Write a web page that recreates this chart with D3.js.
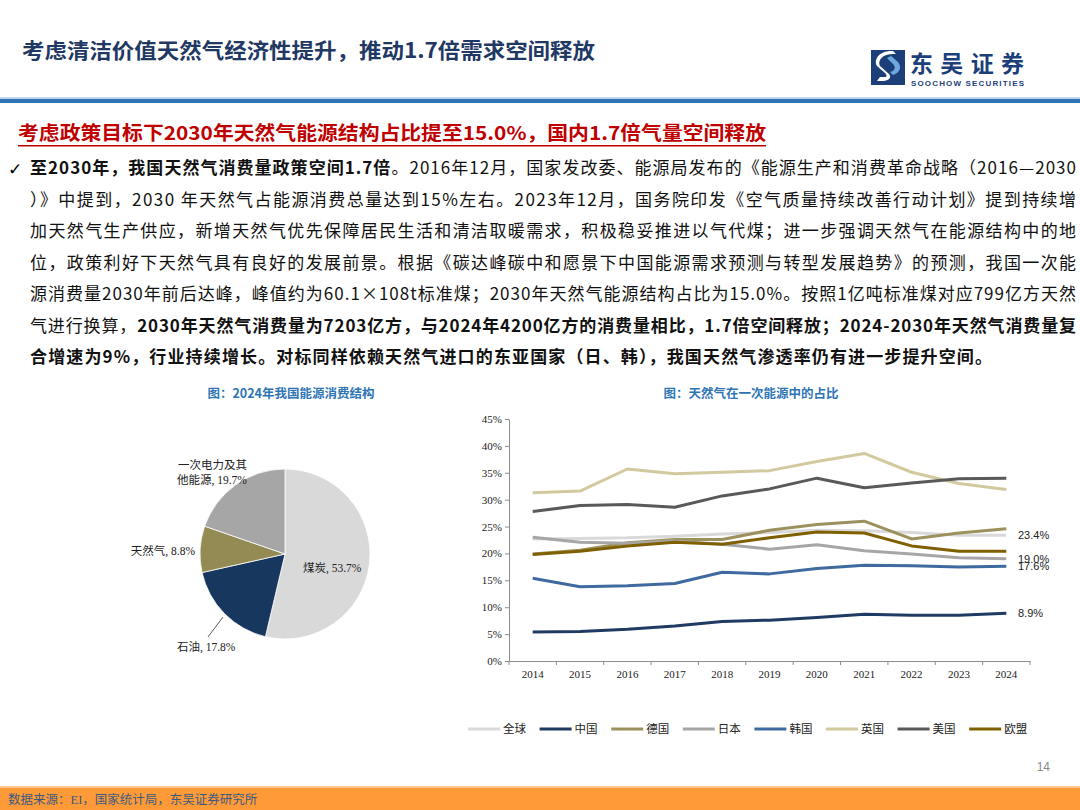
<!DOCTYPE html>
<html><head><meta charset="utf-8">
<script src="https://cdn.jsdelivr.net/npm/d3@7/dist/d3.min.js"></script>
<style>
html,body{margin:0;padding:0;background:#fff;}
svg{display:block;}
</style></head>
<body>
<svg id="c" width="1080" height="810"></svg>
<script>
// ---------- data ----------
const years = ["2014","2015","2016","2017","2018","2019","2020","2021","2022","2023","2024"];
const seriesNames = ["全球","中国","德国","日本","韩国","英国","美国","欧盟"];
const globalVals  = [22.7,22.8,22.9,23.2,23.6,23.9,24.3,24.2,23.9,23.4,23.4];
const chinaVals   = [5.4,5.5,5.9,6.5,7.35,7.6,8.1,8.7,8.5,8.5,8.9];
const germanyVals = [19.9,20.6,22.0,22.6,22.6,24.3,25.4,26.0,22.7,23.8,24.6];
const japanVals   = [23.0,22.1,21.9,22.3,21.7,20.8,21.6,20.5,19.9,19.2,19.0];
const koreaVals   = [15.4,13.8,14.0,14.4,16.5,16.2,17.2,17.8,17.7,17.5,17.6];
const ukVals      = [31.3,31.6,35.7,34.8,35.1,35.4,37.1,38.6,35.1,33.0,31.9];
const usVals      = [27.8,28.9,29.1,28.6,30.7,32.0,34.0,32.2,33.1,33.9,34.0];
const euVals      = [19.8,20.4,21.4,22.1,21.7,22.9,24.0,23.8,21.4,20.4,20.4];
const yTicks = [0,5,10,15,20,25,30,35,40,45];
const endLabels = [["全球","23.4%"],["日本","19.0%"],["韩国","17.6%"],["中国","8.9%"]];

const pieLabels = ["煤炭","石油","天然气","一次电力及其他能源"];
const pieValues = [53.7,17.8,8.8,19.7];

// ---------- styles ----------
const lineColors = {"全球":"#d9d9d9","中国":"#1f3b63","德国":"#9c915c","日本":"#a6a6a6",
  "韩国":"#3e6aa0","英国":"#d3c99f","美国":"#595959","欧盟":"#7f6000"};
const pieColors = ["#d9d9d9","#17375e","#948a54","#a6a6a6"];
const seriesVals = {"全球":globalVals,"中国":chinaVals,"德国":germanyVals,"日本":japanVals,
  "韩国":koreaVals,"英国":ukVals,"美国":usVals,"欧盟":euVals};

const svg = d3.select("#c");
const SANS = "'Noto Sans CJK SC','Liberation Sans',sans-serif";
const SERIF = "'Liberation Serif','Times New Roman','Noto Sans CJK SC',serif";

// ---------- header ----------
svg.append("text").attr("x",22).attr("y",58).attr("font-family",SANS).attr("font-weight","bold")
  .attr("font-size",21).attr("fill","#1f3864").attr("textLength",573).attr("lengthAdjust","spacingAndGlyphs")
  .text("考虑清洁价值天然气经济性提升，推动1.7倍需求空间释放");

// logo
const logo = svg.append("g").attr("transform","translate(871,50)");
logo.append("rect").attr("width",34).attr("height",35).attr("fill","#1c3f7a");
logo.append("path").attr("d","M25,4 C13,3 6,9 9,16 L18,24 C21,27 18,31 12,31 L6,31 L9,27 L14,27 C16,27 16,25 14,23 L6,16 C2,9 9,0 22,1 Z")
  .attr("fill","#fff");
logo.append("path").attr("d","M20,6 L27,12 C31,17 29,23 22,25 L19,22 C24,21 25,17 22,14 L16,8 Z").attr("fill","#6fa8dc");
svg.append("text").attr("x",910).attr("y",72).attr("font-family",SANS).attr("font-weight","bold")
  .attr("font-size",23).attr("fill","#1c3f7a").attr("textLength",114).text("东吴证券");
svg.append("text").attr("x",911).attr("y",85.5).attr("font-family","'Liberation Sans',sans-serif").attr("font-weight","bold")
  .attr("font-size",8).attr("fill","#1c3f7a").attr("textLength",113).text("SOOCHOW SECURITIES");

svg.append("rect").attr("x",0).attr("y",97).attr("width",1080).attr("height",2).attr("fill","#bdd7ee");
svg.append("rect").attr("x",0).attr("y",99).attr("width",1080).attr("height",4).attr("fill","#2f75b5");

// subtitle
svg.append("text").attr("x",18).attr("y",140).attr("font-family",SANS).attr("font-weight","bold")
  .attr("font-size",19).attr("fill","#c00000").attr("textLength",748).attr("lengthAdjust","spacingAndGlyphs")
  .text("考虑政策目标下2030年天然气能源结构占比提至15.0%，国内1.7倍气量空间释放");
svg.append("rect").attr("x",18).attr("y",145).attr("width",748).attr("height",1.5).attr("fill","#c00000");

// body
svg.append("text").attr("x",8).attr("y",175).attr("font-family","'DejaVu Sans',sans-serif").attr("font-size",17)
  .attr("fill","#000").text("✓");
const bodyLines = [
  [["至2030年，我国天然气消费量政策空间1.7倍",1],["。2016年12月，国家发改委、能源局发布的《能源生产和消费革命战略（2016—2030",0]],
  [["）》中提到，2030 年天然气占能源消费总量达到15%左右。2023年12月，国务院印发《空气质量持续改善行动计划》提到持续增",0]],
  [["加天然气生产供应，新增天然气优先保障居民生活和清洁取暖需求，积极稳妥推进以气代煤；进一步强调天然气在能源结构中的地",0]],
  [["位，政策利好下天然气具有良好的发展前景。根据《碳达峰碳中和愿景下中国能源需求预测与转型发展趋势》的预测，我国一次能",0]],
  [["源消费量2030年前后达峰，峰值约为60.1×108t标准煤；2030年天然气能源结构占比为15.0%。按照1亿吨标准煤对应799亿方天然",0]],
  [["气进行换算，",0],["2030年天然气消费量为7203亿方，与2024年4200亿方的消费量相比，1.7倍空间释放；2024-2030年天然气消费量复",1]],
  [["合增速为9%，行业持续增长。对标同样依赖天然气进口的东亚国家（日、韩），我国天然气渗透率仍有进一步提升空间。",1]]
];
const bodyLens = [1046,1046,1046,1046,1046,1046,962];
bodyLines.forEach((segs,i)=>{
  const t = svg.append("text").attr("x",30).attr("y",174+i*31.5).attr("font-family",SANS)
    .attr("font-size",17).attr("fill","#111").attr("textLength",bodyLens[i]).attr("lengthAdjust","spacing");
  segs.forEach(s=>t.append("tspan").attr("font-weight",s[1]?"bold":"normal").text(s[0]));
});

// chart titles
svg.append("text").attr("x",291).attr("y",398).attr("text-anchor","middle").attr("font-family",SANS)
  .attr("font-weight","bold").attr("font-size",12.5).attr("fill","#2e75b6").text("图：2024年我国能源消费结构");
svg.append("text").attr("x",751).attr("y",398).attr("text-anchor","middle").attr("font-family",SANS)
  .attr("font-weight","bold").attr("font-size",12.5).attr("fill","#2e75b6").text("图：天然气在一次能源中的占比");

// ---------- pie ----------
const pieG = svg.append("g").attr("transform","translate(285,554)");
const R = 85;
const pie = d3.pie().sort(null).value(d=>d)(pieValues);
const arc = d3.arc().innerRadius(0).outerRadius(R);
pieG.selectAll("path").data(pie).join("path").attr("d",arc)
  .attr("fill",(d,i)=>pieColors[i]).attr("stroke","#fff").attr("stroke-width",0.8);
const pl = svg.append("g").attr("font-family",SERIF).attr("font-size",11.5).attr("fill","#222");
pl.append("text").attr("x",303).attr("y",572).text(pieLabels[0]+", "+pieValues[0]+"%");
pl.append("text").attr("x",177).attr("y",651).text(pieLabels[1]+", "+pieValues[1]+"%");
svg.append("line").attr("x1",223).attr("y1",617).attr("x2",208).attr("y2",637).attr("stroke","#333").attr("stroke-width",0.8);
pl.append("text").attr("x",195).attr("y",555).attr("text-anchor","end").text(pieLabels[2]+", "+pieValues[2]+"%");
pl.append("text").attr("x",178).attr("y",469).attr("textLength",69).text("一次电力及其");
pl.append("text").attr("x",177).attr("y",484).text("他能源, "+pieValues[3]+"%");

// ---------- line chart ----------
const x = d3.scaleBand().domain(years).range([509,1030]);
const y = d3.scaleLinear().domain([0,45]).range([661,419]);
const axisColor = "#8c8c8c";
const yAx = svg.append("g").attr("transform","translate(509,0)")
  .call(d3.axisLeft(y).tickValues(yTicks).tickFormat(d=>d+"%").tickSize(4).tickSizeOuter(0));
yAx.select(".domain").attr("stroke",axisColor);
yAx.selectAll(".tick line").attr("stroke",axisColor);
yAx.selectAll(".tick text").attr("font-family",SERIF).attr("font-size",11).attr("fill","#222").attr("x",-7);
const xAx = svg.append("g").attr("transform","translate(0,661)")
  .call(d3.axisBottom(x).tickSize(0).tickSizeOuter(0));
xAx.select(".domain").attr("stroke",axisColor);
xAx.selectAll(".tick text").attr("font-family",SERIF).attr("font-size",11).attr("fill","#222").attr("dy","1.3em");
// band boundary ticks
svg.append("g").selectAll("line").data(years.concat(["end"])).join("line")
  .attr("x1",(d,i)=> i<years.length ? x(d) : x.range()[1]).attr("x2",(d,i)=> i<years.length ? x(d) : x.range()[1])
  .attr("y1",661).attr("y2",665).attr("stroke",axisColor);

const line = d3.line().x((d,i)=>x(years[i])+x.bandwidth()/2).y(d=>y(d));
svg.append("g").selectAll("path").data(seriesNames).join("path")
  .attr("d",n=>line(seriesVals[n])).attr("fill","none")
  .attr("stroke",n=>lineColors[n]).attr("stroke-width",3).attr("stroke-linejoin","round");

svg.append("g").selectAll("text").data(endLabels).join("text")
  .attr("x",1018).attr("y",d=>y(+d[1].replace("%",""))+4)
  .attr("font-family","'Liberation Sans',Arial,sans-serif").attr("font-size",11).attr("fill","#222")
  .text(d=>d[1]);

// legend
const lg = svg.append("g").attr("transform","translate(468,729)");
seriesNames.forEach((n,i)=>{
  const g = lg.append("g").attr("transform",`translate(${i*71.6},0)`);
  g.append("line").attr("x1",0).attr("x2",32).attr("y1",0).attr("y2",0).attr("stroke",lineColors[n]).attr("stroke-width",3);
  g.append("text").attr("x",35).attr("y",4).attr("font-family",SERIF).attr("font-size",11.5).attr("fill","#222").text(n);
});

// ---------- footer ----------
svg.append("text").attr("x",1050).attr("y",771).attr("text-anchor","end").attr("font-family","'Liberation Sans',sans-serif")
  .attr("font-size",12).attr("fill","#888").text("14");
svg.append("rect").attr("x",0).attr("y",786).attr("width",1080).attr("height",2).attr("fill","#fbc48c");
svg.append("rect").attr("x",0).attr("y",788).attr("width",1080).attr("height",22).attr("fill","#ff9a38");
svg.append("text").attr("x",8).attr("y",804).attr("font-family",SERIF).attr("font-size",12.5).attr("fill","#3b5a80")
  .text("数据来源：EI，国家统计局，东吴证券研究所");
</script>
</body></html>
